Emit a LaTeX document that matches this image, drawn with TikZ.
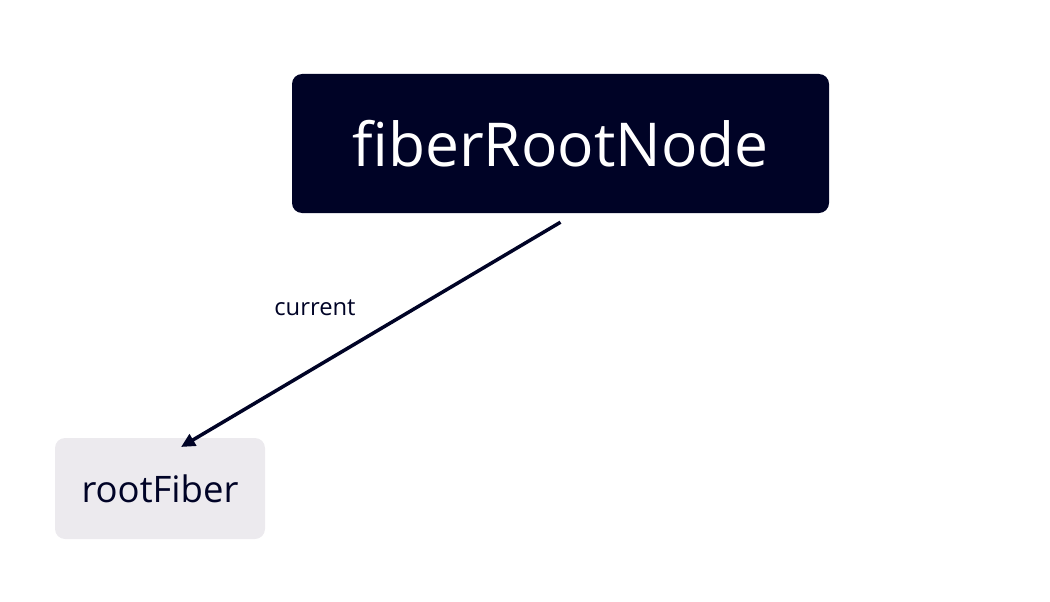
\documentclass[tikz,border=0pt]{standalone}
\usepackage{fontspec}
\setmainfont{Open Sans}
\usetikzlibrary{arrows.meta}
\definecolor{navy}{HTML}{000326}
\definecolor{lightgrey}{HTML}{ECEAEE}

\begin{document}
\begin{tikzpicture}[x=1pt, y=-1pt,
		box/.style = {rounded corners=10pt, inner sep=0pt, anchor=center},
		link/.style = {navy, line width=3.5pt, -{Triangle[length=14pt, width=13pt]}}]
		% fix the margins
		\useasboundingbox (0,0) rectangle (1050,602);
		
		% draw nodes
		\node[box, fill=navy, text=white, minimum width=537pt, minimum height=139pt, font=\fontsize{60.5}{72}\selectfont] (root) at (560.5,143.5) {fiberRootNode};
		\node[box, fill=lightgrey, text=navy, minimum width=210pt, minimum height=101pt, font=\fontsize{36.5}{44}\selectfont] (fiber) at (160,488.5) {rootFiber};
		
		% draw arrow
		\coordinate (tip) at (181,447);
		\draw[link] ([yshift=-9pt]root.south) -- (tip);
		\node[text=navy, font=\fontsize{23.8}{28}\selectfont] (cur) at (315,308) {current};
		
		\end{tikzpicture}
\end{document}
